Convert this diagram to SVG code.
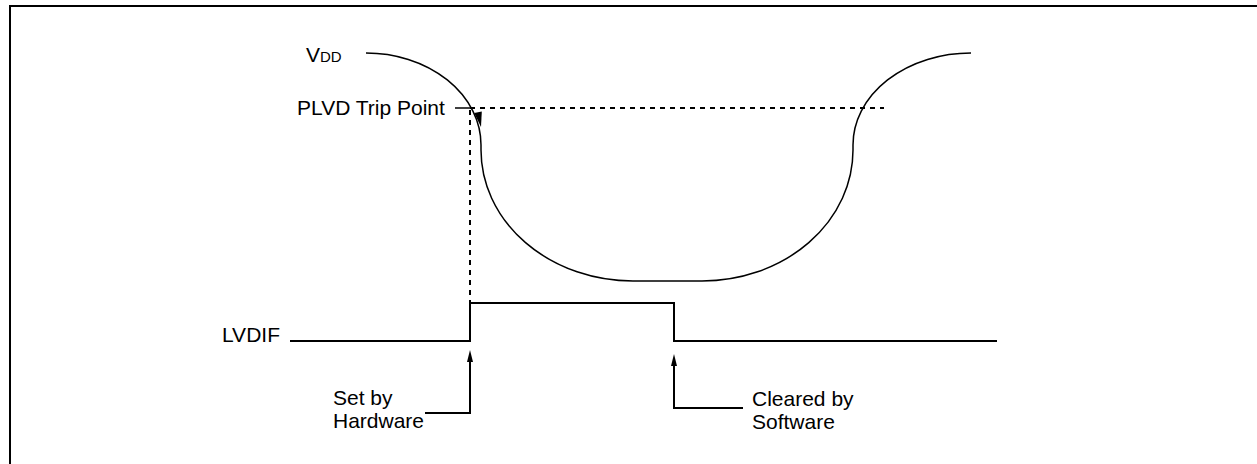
<svg xmlns="http://www.w3.org/2000/svg" width="1257" height="464" viewBox="0 0 1257 464">
  <style>
    text { font-family: "Liberation Sans", Arial, sans-serif; font-size: 21px; fill: #000; }
    .frame { fill: none; stroke: #000; stroke-width: 2; }
    .curve { fill: none; stroke: #000; stroke-width: 1.5; }
    .sig { fill: none; stroke: #000; stroke-width: 2; }
    .dash { fill: none; stroke: #000; stroke-width: 2; stroke-dasharray: 5 5; }
    .lead { fill: none; stroke: #000; stroke-width: 1.5; }
    .ah { fill: #000; }
  </style>
  <defs>
    <marker id="arr" markerUnits="userSpaceOnUse" viewBox="0 0 12 6" refX="0" refY="3" markerWidth="12" markerHeight="6" orient="auto-start-reverse">
      <path d="M0,0 L12,3 L0,6 z" fill="#000"/>
    </marker>
  </defs>

  <g id="frame">
    <path class="frame" d="M10,464 V6 H1257"/>
  </g>

  <g id="vdd">
    <path class="curve" d="M366,53 A115,92 0 0 1 481,145 L481,150 A152,131 0 0 0 633,281 L702,281 A151,131 0 0 0 853,150 L853,145 A118,92 0 0 1 971,53"/>
    <polygon class="ah" points="481,127 481.8,111.4 474.2,112.9"/>
    <text x="306" y="62">V<tspan font-size="15">DD</tspan></text>
  </g>

  <g id="trip">
    <text x="297" y="115">PLVD Trip Point</text>
  </g>

  <g id="lvdif">
    <text x="222" y="342">LVDIF</text>
    <path class="sig" d="M290,341 H470 V303 H674 V341 H997"/>
  </g>

  <g id="set">
    <text x="333" y="405">Set by</text>
    <text x="333" y="428">Hardware</text>
  </g>

  <g id="cleared">
    <text x="752" y="406">Cleared by</text>
    <text x="752" y="429">Software</text>
  </g>

  <g id="connectors">
    <path class="lead" d="M455,108 H470"/>
    <path class="dash" d="M470,108 H884"/>
    <path class="dash" d="M470,110 V303"/>
    <path class="sig" d="M470,362 V413 H425" marker-start="url(#arr)"/>
    <path class="sig" d="M674,366 V408 H743" marker-start="url(#arr)"/>
  </g>
</svg>
